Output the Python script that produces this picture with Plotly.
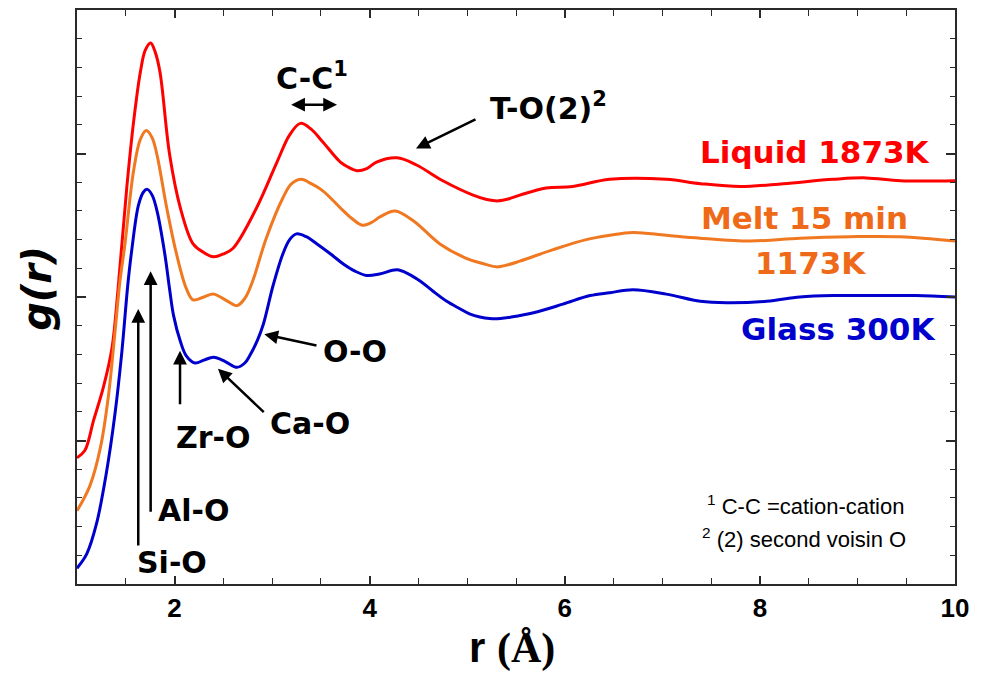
import plotly.graph_objects as go

# Pair distribution functions g(r), stacked vertically for readability
liquid_r = [1.00, 1.08, 1.17, 1.27, 1.36, 1.42, 1.51, 1.58, 1.65, 1.70, 1.755, 1.80, 1.85, 1.95,
            2.06, 2.19, 2.30, 2.40, 2.50, 2.60, 2.84, 3.05, 3.18, 3.29, 3.40, 3.52, 3.70, 3.78,
            3.87, 3.97, 4.07, 4.28, 4.48, 4.75, 5.06, 5.20, 5.32, 5.43, 5.54, 5.81, 6.08, 6.46,
            7.04, 7.39, 7.80, 8.24, 8.75, 9.09, 9.44, 10.0]
liquid_g = [-0.12, -0.07, 0.14, 0.37, 0.65, 1.05, 1.76, 2.22, 2.57, 2.72, 2.77, 2.71, 2.57, 1.99,
            1.62, 1.37, 1.31, 1.28, 1.30, 1.34, 1.62, 1.94, 2.13, 2.21, 2.17, 2.08, 1.94, 1.905,
            1.88, 1.895, 1.94, 1.97, 1.92, 1.81, 1.71, 1.68, 1.67, 1.685, 1.71, 1.76, 1.77, 1.82,
            1.82, 1.79, 1.77, 1.79, 1.82, 1.83, 1.81, 1.81]

melt_r = [1.00, 1.13, 1.24, 1.32, 1.39, 1.44, 1.49, 1.58, 1.65, 1.71, 1.77, 1.82, 1.92, 2.02,
          2.12, 2.19, 2.30, 2.40, 2.52, 2.64, 2.72, 2.80, 2.94, 3.11, 3.20, 3.30, 3.40, 3.52,
          3.73, 3.83, 3.93, 4.02, 4.11, 4.26, 4.45, 4.72, 4.99, 5.15, 5.30, 5.42, 5.54, 5.88,
          6.22, 6.46, 6.70, 7.04, 7.39, 7.90, 8.41, 8.92, 9.44, 10.0]
melt_g = [-0.49, -0.32, -0.05, 0.30, 0.76, 1.11, 1.36, 1.88, 2.10, 2.16, 2.11, 1.99, 1.62, 1.30,
          1.06, 0.98, 1.00, 1.02, 0.98, 0.94, 0.99, 1.11, 1.41, 1.69, 1.79, 1.82, 1.79, 1.74,
          1.60, 1.54, 1.50, 1.52, 1.56, 1.60, 1.53, 1.37, 1.27, 1.235, 1.21, 1.225, 1.25, 1.33,
          1.40, 1.43, 1.45, 1.43, 1.41, 1.39, 1.41, 1.42, 1.42, 1.39]

glass_r = [1.00, 1.10, 1.20, 1.30, 1.39, 1.46, 1.52, 1.56, 1.63, 1.68, 1.72, 1.77, 1.82, 1.90,
           1.95, 1.99, 2.06, 2.12, 2.21, 2.30, 2.40, 2.52, 2.64, 2.72, 2.77, 2.85, 2.91, 3.01,
           3.11, 3.18, 3.25, 3.35, 3.46, 3.60, 3.73, 3.85, 3.97, 4.10, 4.28, 4.40, 4.52, 4.65,
           4.79, 4.92, 5.03, 5.13, 5.23, 5.34, 5.45, 5.68, 5.98, 6.26, 6.46, 6.70, 7.04, 7.39,
           7.66, 8.07, 8.41, 8.75, 9.27, 9.60, 10.0]
glass_g = [-0.89, -0.79, -0.58, -0.23, 0.19, 0.62, 1.08, 1.32, 1.64, 1.73, 1.75, 1.71, 1.60, 1.30,
           1.05, 0.87, 0.69, 0.59, 0.54, 0.56, 0.58, 0.55, 0.51, 0.54, 0.59, 0.70, 0.81, 1.08,
           1.30, 1.40, 1.44, 1.42, 1.37, 1.30, 1.23, 1.18, 1.15, 1.16, 1.19, 1.16, 1.11, 1.04,
           0.97, 0.92, 0.88, 0.86, 0.85, 0.85, 0.86, 0.89, 0.95, 1.01, 1.03, 1.05, 1.02, 0.97,
           0.96, 0.97, 1.00, 1.01, 1.01, 1.01, 1.00]

x_ticks = [2, 4, 6, 8, 10]
x_tick_labels = ["2", "4", "6", "8", "10"]

RED = "#FF0000"
ORANGE = "#F07820"
ORANGE_TXT = "#EE6A18"
BLUE = "#0000CC"
AXIS = "#2a2a2a"
LABEL_FONT = "DejaVu Sans"
SANS = "Liberation Sans"

fig = go.Figure()
for r, g, c, name in [(liquid_r, liquid_g, RED, "Liquid 1873K"),
                      (melt_r, melt_g, ORANGE, "Melt 15 min 1173K"),
                      (glass_r, glass_g, BLUE, "Glass 300K")]:
    fig.add_trace(go.Scatter(x=r, y=g, mode="lines", name=name,
                             line=dict(color=c, width=3, shape="spline", smoothing=1.0)))

anns = []

def label(text, x, y, color="black", size=30, family=LABEL_FONT, weight="bold"):
    anns.append(dict(text=text, x=x, y=y, xref="x", yref="y", showarrow=False,
                     xanchor="center", yanchor="middle",
                     font=dict(family=family, size=size, color=color, weight=weight)))

def arrow(x_head, y_head, x_tail, y_tail, both=False):
    d = dict(text="", x=x_head, y=y_head, ax=x_tail, ay=y_tail, xref="x", yref="y",
             axref="x", ayref="y", showarrow=True, arrowhead=2, arrowsize=1.1,
             arrowwidth=2.5, arrowcolor="black")
    if both:
        d.update(arrowside="end+start", startarrowhead=2, startarrowsize=1.1)
    anns.append(d)

# Series labels
label("Liquid 1873K", 8.565, 2.01, RED, 31)
label("Melt 15 min", 8.46, 1.55, ORANGE_TXT, 31)
label("1173K", 8.52, 1.24, ORANGE_TXT, 31)
label("Glass 300K", 8.80, 0.78, BLUE, 31)

# Peak assignments
label("C-C<sup>1</sup>", 3.41, 2.535)
arrow(3.665, 2.34, 3.18, 2.34, both=True)
label("T-O(2)<sup>2</sup>", 5.83, 2.33)
arrow(4.475, 2.035, 5.10, 2.243)
label("O-O", 3.85, 0.62)
arrow(2.92, 0.74, 3.47, 0.66)
label("Ca-O", 3.39, 0.118)
arrow(2.445, 0.50, 2.93, 0.1875)
label("Zr-O", 2.40, 0.02)
arrow(2.056, 0.625, 2.056, 0.243)
label("Al-O", 2.19, -0.49)
arrow(1.755, 1.18, 1.755, -0.507)
label("Si-O", 1.97, -0.85)
arrow(1.628, 0.917, 1.628, -0.743)

# Footnotes
label("<sup>1</sup> C-C =cation-cation", 8.47, -0.45, "black", 22, SANS, "normal")
label("<sup>2</sup> (2) second voisin O", 8.45, -0.68, "black", 22, SANS, "normal")

# Axis titles
anns.append(dict(text="g(r)", x=-0.0456, y=0.516, xref="paper", yref="paper",
                 showarrow=False, textangle=-90, xanchor="center", yanchor="middle",
                 font=dict(family=LABEL_FONT, size=40, weight="bold", style="italic",
                           color="black")))
anns.append(dict(text="r <span style='font-family:Liberation Serif'>(Å)</span>",
                 x=0.4954, y=-0.111, xref="paper", yref="paper", showarrow=False,
                 xanchor="center", yanchor="middle",
                 font=dict(family=SANS, size=42, weight="bold", color="black")))

fig.update_layout(
    width=987, height=673,
    margin=dict(l=77, r=32, t=8, b=89),
    paper_bgcolor="white", plot_bgcolor="white",
    showlegend=False,
    annotations=anns,
    xaxis=dict(range=[1, 10], tickvals=x_ticks, ticktext=x_tick_labels,
               ticks="inside", ticklen=8, tickwidth=1.5, tickcolor=AXIS,
               minor=dict(dtick=0.5, tick0=0, ticks="inside", ticklen=6, tickwidth=1.2,
                          tickcolor=AXIS),
               showline=True, linewidth=1.8, linecolor=AXIS, mirror="allticks",
               showgrid=False, zeroline=False,
               tickfont=dict(family=SANS, size=26, weight="bold", color="black")),
    yaxis=dict(range=[-1, 3], dtick=1, tick0=0, showticklabels=False,
               ticks="inside", ticklen=9, tickwidth=1.5, tickcolor=AXIS,
               minor=dict(dtick=0.2, tick0=0, ticks="inside", ticklen=5, tickwidth=1.2,
                          tickcolor=AXIS),
               showline=True, linewidth=1.8, linecolor=AXIS, mirror="allticks",
               showgrid=False, zeroline=False),
)

fig.write_html("out.html")
